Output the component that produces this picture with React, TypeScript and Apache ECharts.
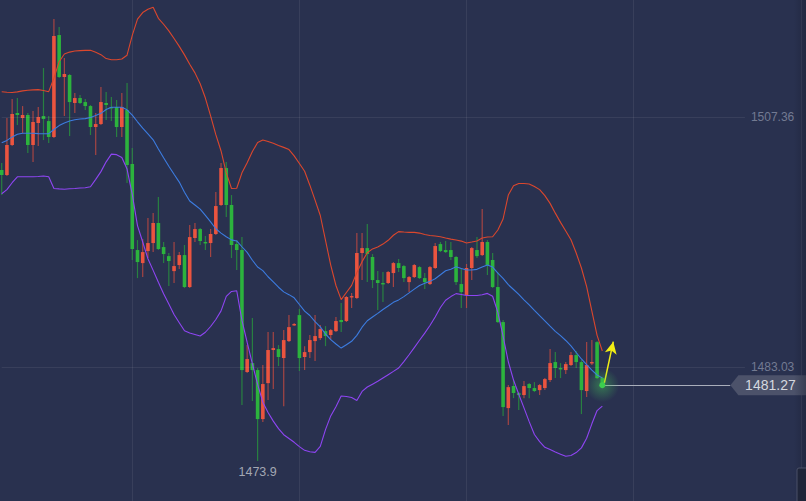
import React, { useEffect, useRef } from "react";
import * as echarts from "echarts";

// ---- data (prices) ----
// each candle: [open, close, low, high]
const candles: number[][] = [
  [1502.21, 1501.72, 1499.77, 1502.89],
  [1501.72, 1504.64, 1501.62, 1507.27],
  [1504.64, 1507.66, 1504.54, 1509.12],
  [1507.75, 1507.56, 1506.59, 1509.21],
  [1507.27, 1507.56, 1505.81, 1508.43],
  [1507.56, 1504.64, 1503.86, 1507.75],
  [1504.64, 1506.88, 1502.98, 1507.95],
  [1506.78, 1507.36, 1504.54, 1508.34],
  [1507.46, 1507.17, 1505.12, 1512.13],
  [1506.97, 1505.42, 1504.83, 1507.46],
  [1505.42, 1515.25, 1505.32, 1516.9],
  [1515.34, 1511.26, 1511.16, 1516.12],
  [1511.26, 1511.55, 1507.46, 1513.11],
  [1511.45, 1508.82, 1505.51, 1511.55],
  [1508.73, 1509.21, 1507.75, 1509.7],
  [1509.21, 1508.73, 1508.63, 1509.5],
  [1508.82, 1508.43, 1508.04, 1509.12],
  [1508.43, 1506.39, 1505.61, 1508.53],
  [1506.39, 1506.68, 1503.67, 1507.75],
  [1506.68, 1508.82, 1506.58, 1510.28],
  [1508.73, 1508.53, 1507.07, 1509.8],
  [1508.34, 1508.24, 1506.97, 1509.31],
  [1508.34, 1506.39, 1505.42, 1509.02],
  [1506.39, 1508.34, 1505.42, 1509.7],
  [1508.04, 1502.69, 1500.94, 1510.67],
  [1502.79, 1494.52, 1493.45, 1504.35],
  [1494.42, 1493.25, 1491.69, 1495.39],
  [1493.15, 1494.22, 1491.79, 1495.49],
  [1494.32, 1495.1, 1493.64, 1497.53],
  [1495.1, 1497.05, 1494.22, 1498.02],
  [1497.05, 1494.52, 1494.42, 1499.58],
  [1494.71, 1494.03, 1493.15, 1495.2],
  [1493.83, 1493.35, 1490.92, 1494.13],
  [1492.37, 1492.86, 1491.21, 1495.2],
  [1492.96, 1493.93, 1492.57, 1494.22],
  [1493.93, 1490.82, 1490.72, 1494.91],
  [1490.82, 1495.68, 1490.72, 1496.85],
  [1495.59, 1496.46, 1495.2, 1497.05],
  [1496.46, 1495.3, 1494.91, 1496.56],
  [1495.2, 1495.1, 1494.42, 1495.78],
  [1495.1, 1495.98, 1493.74, 1496.46],
  [1495.98, 1498.7, 1495.88, 1500.06],
  [1498.8, 1502.4, 1498.7, 1502.89],
  [1502.4, 1498.8, 1497.63, 1502.98],
  [1498.8, 1494.91, 1493.64, 1499.77],
  [1495.0, 1494.42, 1492.47, 1495.39],
  [1494.42, 1482.74, 1479.33, 1495.68],
  [1482.55, 1483.81, 1482.45, 1485.17],
  [1483.42, 1482.74, 1479.72, 1487.8],
  [1482.74, 1477.97, 1473.9, 1482.94],
  [1477.97, 1481.38, 1477.68, 1483.23],
  [1481.47, 1484.69, 1479.82, 1486.44],
  [1484.69, 1484.88, 1480.89, 1486.44],
  [1484.78, 1484.01, 1483.13, 1485.17],
  [1483.91, 1485.66, 1479.23, 1486.63],
  [1485.56, 1486.92, 1485.46, 1488.09],
  [1487.12, 1487.22, 1487.02, 1487.32],
  [1488.09, 1483.91, 1482.64, 1488.68],
  [1484.01, 1484.49, 1482.74, 1485.07],
  [1484.49, 1485.66, 1483.91, 1486.15],
  [1485.56, 1486.05, 1483.62, 1488.09],
  [1485.85, 1486.73, 1485.66, 1487.12],
  [1486.53, 1486.05, 1485.07, 1487.02],
  [1486.15, 1486.63, 1485.66, 1486.73],
  [1486.53, 1487.51, 1486.44, 1487.9],
  [1487.61, 1487.41, 1486.44, 1489.26],
  [1487.51, 1489.85, 1487.41, 1489.94],
  [1489.85, 1489.94, 1488.78, 1490.23],
  [1489.75, 1494.13, 1489.65, 1496.07],
  [1494.13, 1494.61, 1491.5, 1496.07],
  [1494.61, 1494.03, 1491.3, 1496.95],
  [1493.74, 1491.5, 1490.72, 1494.03],
  [1491.5, 1491.21, 1488.58, 1492.37],
  [1491.21, 1491.11, 1489.36, 1492.28],
  [1491.21, 1492.28, 1491.11, 1492.37],
  [1492.18, 1493.15, 1490.82, 1493.25],
  [1493.15, 1492.67, 1492.28, 1493.54],
  [1492.86, 1491.69, 1491.3, 1492.96],
  [1491.3, 1491.79, 1490.33, 1491.89],
  [1491.79, 1492.96, 1491.69, 1493.06],
  [1492.76, 1491.69, 1491.6, 1492.86],
  [1491.69, 1491.3, 1490.62, 1492.18],
  [1491.11, 1492.76, 1491.01, 1492.86],
  [1492.67, 1494.81, 1492.57, 1495.1],
  [1495.0, 1494.32, 1494.22, 1495.2],
  [1494.42, 1494.22, 1494.13, 1495.3],
  [1494.42, 1493.74, 1493.45, 1495.2],
  [1493.74, 1491.3, 1491.01, 1493.83],
  [1491.11, 1490.33, 1488.78, 1492.67],
  [1490.04, 1492.67, 1488.78, 1493.06],
  [1492.67, 1494.61, 1491.5, 1494.71],
  [1494.42, 1493.83, 1493.64, 1495.68],
  [1493.93, 1495.2, 1493.83, 1498.41],
  [1495.2, 1492.96, 1491.99, 1495.39],
  [1493.45, 1490.82, 1490.72, 1494.13],
  [1490.82, 1487.41, 1487.31, 1492.28],
  [1487.41, 1479.14, 1478.26, 1487.61],
  [1479.04, 1481.08, 1477.39, 1481.28],
  [1481.18, 1480.5, 1480.01, 1481.77],
  [1480.5, 1480.31, 1478.85, 1480.6],
  [1480.31, 1481.18, 1480.01, 1481.67],
  [1481.38, 1480.99, 1480.01, 1481.47],
  [1480.99, 1480.7, 1480.6, 1481.57],
  [1480.79, 1481.28, 1480.31, 1481.38],
  [1480.99, 1481.86, 1480.79, 1481.96],
  [1481.77, 1483.42, 1481.57, 1484.78],
  [1483.52, 1482.94, 1481.96, 1484.49],
  [1482.94, 1482.84, 1481.96, 1483.42],
  [1482.74, 1483.32, 1482.35, 1483.52],
  [1483.23, 1484.2, 1483.13, 1484.49],
  [1484.2, 1483.52, 1482.94, 1484.59],
  [1483.52, 1480.79, 1478.46, 1483.71],
  [1480.7, 1483.23, 1480.11, 1485.46],
  [1483.42, 1483.52, 1483.23, 1485.66],
  [1485.46, 1481.96, 1481.86, 1485.56],
  [1481.96, 1481.27, 1480.99, 1482.06],
];

const upperBand: number[] = [
  1509.82, 1509.78, 1509.75, 1509.81, 1509.91, 1509.97, 1510.0, 1510.03, 1509.94, 1509.83,
  1511.14, 1512.74, 1513.49, 1513.68, 1513.79, 1513.82, 1513.85, 1513.86, 1513.66, 1513.43,
  1513.05, 1512.94, 1512.93, 1513.01, 1513.38, 1515.31, 1516.89, 1517.53, 1517.85, 1518.05,
  1516.97, 1516.39, 1515.75, 1515.0, 1514.24, 1513.41, 1512.49, 1511.66, 1510.6, 1509.21,
  1507.47, 1505.65, 1504.06, 1501.93, 1500.41, 1500.43, 1501.93, 1502.91, 1504.0, 1504.89,
  1505.12, 1504.99, 1504.81, 1504.6, 1504.41, 1504.2, 1503.58, 1502.84, 1502.08, 1500.73,
  1499.28, 1497.78, 1495.35, 1492.96, 1490.97, 1489.59, 1490.29, 1490.98, 1492.24, 1493.29,
  1494.16, 1494.53, 1494.72, 1495.0, 1495.37, 1495.86, 1496.21, 1496.17, 1496.14, 1496.14,
  1496.07, 1495.94, 1495.84, 1495.78, 1495.71, 1495.59, 1495.48, 1495.39, 1495.29, 1495.11,
  1495.2, 1495.3, 1495.59, 1495.69, 1495.71, 1496.37, 1497.44, 1499.77, 1500.68, 1500.89,
  1500.9, 1500.85, 1500.6, 1500.3, 1499.71, 1498.96, 1498.01, 1497.11, 1496.27, 1495.42,
  1494.13, 1492.67, 1490.86, 1488.48, 1486.12, 1484.6,
];

const middleBand: number[] = [
  1504.86, 1505.09, 1505.43, 1505.69, 1505.78, 1505.78, 1505.78, 1505.75, 1505.73, 1505.75,
  1506.15, 1506.53, 1506.79, 1506.97, 1507.09, 1507.17, 1507.21, 1507.32, 1507.52, 1507.72,
  1508.09, 1508.31, 1508.31, 1508.31, 1508.06, 1507.54, 1506.9, 1506.28, 1505.72, 1505.15,
  1504.25, 1503.4, 1502.57, 1501.79, 1501.03, 1500.05, 1499.19, 1498.8, 1498.4, 1497.79,
  1497.16, 1496.49, 1496.07, 1495.71, 1495.41, 1495.3, 1494.74, 1494.19, 1493.43, 1492.77,
  1492.42, 1491.82, 1491.32, 1490.8, 1490.35, 1490.08, 1489.77, 1489.12, 1488.48, 1488.05,
  1487.46, 1486.95, 1486.25, 1485.71, 1485.28, 1484.88, 1485.21, 1485.54, 1486.12, 1486.91,
  1487.54, 1487.9, 1488.26, 1488.63, 1488.97, 1489.33, 1489.57, 1489.89, 1490.25, 1490.62,
  1490.97, 1491.18, 1491.37, 1491.63, 1492.01, 1492.4, 1492.56, 1492.79, 1492.62, 1492.48,
  1492.48, 1492.54, 1492.77, 1492.96, 1492.76, 1492.18, 1491.67, 1491.05, 1490.58, 1490.11,
  1489.58, 1489.08, 1488.55, 1488.03, 1487.52, 1487.01, 1486.51, 1486.09, 1485.62, 1485.09,
  1484.45, 1483.82, 1483.26, 1482.74, 1482.26, 1481.97,
];

const lowerBand: number[] = [
  1499.9, 1500.3, 1500.97, 1501.55, 1501.55, 1501.55, 1501.55, 1501.58, 1501.62, 1501.55,
  1500.41, 1500.37, 1500.34, 1500.38, 1500.41, 1500.45, 1500.48, 1500.58, 1501.3, 1502.05,
  1503.0, 1503.75, 1503.7, 1503.43, 1502.3, 1499.84, 1496.8, 1495.2, 1493.57, 1492.44,
  1491.29, 1490.17, 1489.17, 1488.15, 1487.35, 1486.56, 1486.34, 1486.2, 1486.05, 1486.42,
  1486.98, 1487.66, 1488.5, 1489.91, 1490.39, 1490.46, 1487.57, 1485.43, 1483.35, 1481.34,
  1479.62, 1478.61, 1477.77, 1477.04, 1476.45, 1476.08, 1475.71, 1475.29, 1474.93, 1474.79,
  1474.73, 1475.31, 1476.94, 1478.28, 1479.18, 1480.21, 1480.17, 1480.07, 1479.77, 1480.66,
  1481.09, 1481.37, 1481.65, 1481.97, 1482.29, 1482.61, 1482.94, 1483.57, 1484.23, 1484.93,
  1485.64, 1486.33, 1487.08, 1487.91, 1488.83, 1489.53, 1489.89, 1490.18, 1490.09, 1490.0,
  1489.99, 1489.99, 1490.07, 1490.2, 1489.92, 1488.35, 1486.05, 1483.55, 1481.77, 1480.39,
  1479.06, 1477.72, 1476.47, 1475.78, 1475.22, 1475.0, 1474.76, 1474.56, 1474.35, 1474.43,
  1474.71, 1475.17, 1476.11, 1477.51, 1478.8, 1479.24,
];

// reference price levels shown on the right
const levelLines: number[] = [1507.36, 1483.03];
const lowPrice = 1473.9;
const lowIndex = 49;
const lastPrice = 1481.27;

// time slots on the x axis (116 filled, the rest still empty)
const slotCount = 155;
const categories: string[] = Array.from({ length: slotCount }, (_, i) => String(i));

const FONT = "'Liberation Sans', Arial, sans-serif";
const BG = "#29314f";
const GRID = "rgba(255,255,255,0.07)";
const UP_BODY = "#eb543f";
const UP_WICK = "rgba(214,76,62,0.72)";
const DOWN_BODY = "#2cb33d";
const DOWN_WICK = "rgba(40,160,60,0.72)";

export default function App() {
  const ref = useRef<HTMLDivElement>(null);

  useEffect(() => {
    if (!ref.current) return;
    const chart = echarts.init(ref.current, undefined, { renderer: "svg" });
    const lastIdx = candles.length - 1;

    const option: any = {
      animation: false,
      backgroundColor: BG,
      grid: { left: 1.7, right: 0, top: 0, bottom: 0, containLabel: false },
      xAxis: [
        {
          type: "category",
          data: categories,
          boundaryGap: false,
          axisLine: { show: false },
          axisTick: { show: false },
          axisLabel: { show: false },
          splitLine: {
            show: true,
            interval: (i: number) => i >= 25 && (i - 25) % 32 === 0,
            lineStyle: { color: GRID, width: 1 },
          },
        },
        { type: "value", min: 0, max: slotCount - 1, show: false },
      ],
      yAxis: {
        type: "value",
        min: 1470,
        max: 1518.75,
        show: false,
        splitLine: { show: false },
      },
      series: [
        {
          name: "levels",
          type: "line",
          xAxisIndex: 1,
          data: [],
          silent: true,
          markLine: {
            silent: true,
            symbol: ["none", "none"],
            lineStyle: { color: GRID, width: 1, type: "solid" },
            data: levelLines.map((v) => [
              {
                coord: [0, v],
                label: {
                  show: true,
                  position: "end",
                  distance: 6,
                  color: "#737a92",
                  fontSize: 12,
                  fontFamily: FONT,
                  formatter: v.toFixed(2),
                },
              },
              { coord: [142.3, v] },
            ]),
          },
        },
        {
          name: "candles",
          type: "custom",
          xAxisIndex: 0,
          data: candles.map((c, i) => [i, c[0], c[1], c[2], c[3]]),
          encode: { x: 0, y: [1, 2, 3, 4] },
          renderItem: (_params: any, api: any) => {
            const idx = api.value(0);
            const o = api.value(1);
            const c = api.value(2);
            const l = api.value(3);
            const h = api.value(4);
            const pO = api.coord([idx, o]);
            const pC = api.coord([idx, c]);
            const pL = api.coord([idx, l]);
            const pH = api.coord([idx, h]);
            const up = c >= o;
            const bw = 3.6;
            const x = pO[0];
            const top = Math.min(pO[1], pC[1]);
            const hh = Math.max(Math.abs(pO[1] - pC[1]), 1.4);
            return {
              type: "group",
              children: [
                {
                  type: "line",
                  shape: { x1: x, y1: pH[1], x2: x, y2: pL[1] },
                  style: { stroke: up ? UP_WICK : DOWN_WICK, lineWidth: 1.2 },
                },
                {
                  type: "rect",
                  shape: { x: x - bw / 2, y: top, width: bw, height: hh },
                  style: { fill: up ? UP_BODY : DOWN_BODY },
                },
              ],
            };
          },
          z: 2,
        },
        {
          name: "upper",
          type: "line",
          data: upperBand,
          symbol: "none",
          lineStyle: { color: "#db472d", width: 1.1 },
          z: 3,
        },
        {
          name: "middle",
          type: "line",
          data: middleBand,
          symbol: "none",
          lineStyle: { color: "#3c7ce0", width: 1.1 },
          z: 3,
        },
        {
          name: "lower",
          type: "line",
          data: lowerBand,
          symbol: "none",
          lineStyle: { color: "#8e45f2", width: 1.1 },
          z: 3,
        },
        {
          name: "last",
          type: "line",
          xAxisIndex: 1,
          data: [],
          z: 5,
          markLine: {
            silent: true,
            symbol: ["none", "none"],
            lineStyle: { color: "#a9aebb", width: 1, type: "solid" },
            label: { show: false },
            data: [[{ coord: [lastIdx, lastPrice] }, { coord: [139.5, lastPrice] }]],
          },
          markPoint: {
            silent: true,
            data: [
              {
                coord: [lastIdx, lastPrice],
                symbol: "circle",
                symbolSize: 34,
                itemStyle: {
                  color: {
                    type: "radial",
                    x: 0.5,
                    y: 0.5,
                    r: 0.5,
                    colorStops: [
                      { offset: 0, color: "rgba(70,200,90,0.45)" },
                      { offset: 1, color: "rgba(70,200,90,0)" },
                    ],
                  },
                },
                label: { show: false },
              },
              {
                coord: [lastIdx, lastPrice],
                symbol: "circle",
                symbolSize: 6,
                itemStyle: { color: "#3ccf4e" },
                label: { show: false },
              },
              {
                coord: [146.8, lastPrice],
                symbol: "path://M0,10 L8,0 L76,0 L76,20 L8,20 Z",
                symbolSize: [76, 20],
                itemStyle: { color: "#4c526a" },
                label: {
                  show: true,
                  position: "inside",
                  offset: [2, 0],
                  formatter: String(lastPrice),
                  color: "#d5d8df",
                  fontSize: 14,
                  fontFamily: FONT,
                },
              },
              {
                coord: [lowIndex, lowPrice],
                symbol: "rect",
                symbolSize: [1, 1],
                itemStyle: { color: "rgba(0,0,0,0)" },
                label: {
                  show: true,
                  position: "bottom",
                  distance: 4,
                  formatter: String(lowPrice),
                  color: "#a3a7b3",
                  fontSize: 12.5,
                  fontFamily: FONT,
                },
              },
            ],
          },
        },
        {
          name: "arrow",
          type: "line",
          xAxisIndex: 1,
          data: [],
          z: 6,
          markLine: {
            silent: true,
            symbol: ["none", "arrow"],
            symbolSize: [9, 12],
            lineStyle: { color: "#f2ee14", width: 1.5, type: "solid" },
            label: { show: false },
            data: [[{ coord: [115.4, 1481.5] }, { coord: [117.1, 1485.5] }]],
          },
        },
      ],
      graphic: [
        {
          type: "rect",
          shape: { x: 794, y: 0, width: 12, height: 501 },
          style: {
            fill: {
              type: "linear",
              x: 0,
              y: 0,
              x2: 1,
              y2: 0,
              colorStops: [
                { offset: 0, color: "rgba(20,24,40,0)" },
                { offset: 1, color: "rgba(20,24,40,0.35)" },
              ],
            },
          },
          silent: true,
          z: 10,
        },
        {
          type: "rect",
          shape: { x: 797, y: 468, width: 12, height: 36, r: 2 },
          style: { fill: "#1f2539", stroke: "#4b5168", lineWidth: 1 },
          silent: true,
          z: 11,
        },
      ],
    };

    chart.setOption(option);
    return () => chart.dispose();
  }, []);

  return (
    <div
      ref={ref}
      style={{ position: "absolute", left: 0, top: 0, width: 806, height: 501 }}
    />
  );
}
